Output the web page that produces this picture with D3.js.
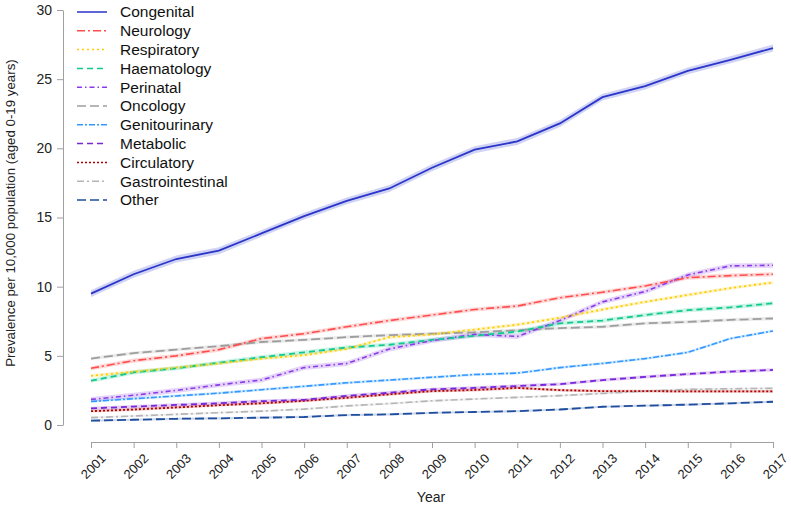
<!DOCTYPE html>
<html>
<head>
<meta charset="utf-8">
<script src="https://cdn.jsdelivr.net/npm/d3@7"></script>
<style>
  html, body { margin: 0; padding: 0; background: #fff; }
  svg { display: block; font-family: "Liberation Sans", Arial, sans-serif; }
</style>
</head>
<body>
<svg id="chart" width="791" height="505"></svg>
<script>
// ---- data ----
const years = [2001,2002,2003,2004,2005,2006,2007,2008,2009,2010,2011,2012,2013,2014,2015,2016,2017];
const categories = ["Congenital","Neurology","Respiratory","Haematology","Perinatal","Oncology","Genitourinary","Metabolic","Circulatory","Gastrointestinal","Other"];

const congenital      = [9.5,10.9,12.0,12.6,13.85,15.1,16.2,17.1,18.6,19.9,20.5,21.8,23.7,24.5,25.6,26.4,27.25];
const neurology       = [4.1,4.65,5.0,5.45,6.25,6.6,7.1,7.55,7.95,8.35,8.6,9.2,9.6,10.05,10.65,10.8,10.9];
const respiratory     = [3.55,3.85,4.15,4.45,4.8,5.05,5.5,6.35,6.55,6.9,7.25,7.75,8.35,8.9,9.4,9.9,10.3];
const haematology     = [3.2,3.8,4.1,4.5,4.9,5.25,5.6,5.8,6.15,6.45,6.75,7.35,7.55,7.95,8.3,8.5,8.8];
const perinatal       = [1.85,2.15,2.5,2.9,3.25,4.15,4.45,5.5,6.1,6.55,6.4,7.55,8.9,9.65,10.85,11.5,11.55];
const oncology        = [4.8,5.2,5.45,5.7,6.0,6.15,6.35,6.5,6.6,6.7,6.85,7.0,7.1,7.35,7.45,7.6,7.7];
const genitourinary   = [1.7,1.9,2.1,2.3,2.55,2.8,3.05,3.25,3.45,3.65,3.75,4.15,4.45,4.8,5.25,6.25,6.8];
const metabolic       = [1.2,1.33,1.45,1.57,1.72,1.82,2.1,2.33,2.58,2.68,2.82,2.95,3.25,3.48,3.68,3.86,3.98];
const circulatory     = [1.0,1.12,1.27,1.43,1.57,1.75,1.97,2.22,2.45,2.53,2.68,2.52,2.45,2.45,2.43,2.43,2.43];
const gastrointestinal= [0.53,0.65,0.77,0.89,1.0,1.15,1.38,1.55,1.75,1.88,2.0,2.12,2.28,2.45,2.57,2.62,2.65];
const other           = [0.31,0.38,0.45,0.48,0.53,0.58,0.72,0.77,0.88,0.94,1.0,1.12,1.32,1.4,1.47,1.57,1.68];

// approximate half-width of each shaded confidence band
const bandHalfWidth = [0.25,0.15,0.12,0.15,0.18,0.12,0.1,0.12,0.1,0.08,0.08];

const yTicks = [0,5,10,15,20,25,30];

// ---- styles ----
const colors = ["#2a35c9","#ff4d4d","#ffcc00","#11c98e","#8a3ae6","#9e9e9e","#3399ff","#7a26d6","#b00000","#b5b5b5","#1f4e9f"];
const dashes = ["", "8,3,2,3", "2,3", "6,4", "5,3,1.5,3", "9,4", "6,2,2,2", "6,4", "2,2", "7,3,2,3", "9,4"];
const widths = [1.8,1.6,1.8,1.8,1.6,1.8,1.6,1.8,1.8,1.6,1.8];

const seriesValues = [congenital,neurology,respiratory,haematology,perinatal,oncology,genitourinary,metabolic,circulatory,gastrointestinal,other];

const svg = d3.select("#chart");
const x = d3.scaleLinear().domain([2001,2017]).range([91,773]);
const y = d3.scaleLinear().domain([0,30]).range([425,10]);

// bands
const area = d3.area()
  .x(d => x(d.year)).y0(d => y(d.v - d.h)).y1(d => y(d.v + d.h));
const line = d3.line().x(d => x(d.year)).y(d => y(d.v));

const data = categories.map((c,i) => ({
  name: c, color: colors[i], dash: dashes[i], width: widths[i],
  pts: years.map((yr,j) => ({year: yr, v: seriesValues[i][j], h: bandHalfWidth[i]}))
}));

const gBands = svg.append("g");
data.forEach(s => {
  gBands.append("path").attr("d", area(s.pts))
    .attr("fill", s.color).attr("fill-opacity", 0.22).attr("stroke", "none");
});
const gLines = svg.append("g");
data.slice().reverse().forEach(s => {
  gLines.append("path").attr("d", line(s.pts))
    .attr("fill","none").attr("stroke", s.color).attr("stroke-width", s.width)
    .attr("stroke-dasharray", s.dash || null);
});

// axes
const axisColor = "#a0a0a0";
const yAxis = svg.append("g").attr("transform","translate(63,0)")
  .call(d3.axisLeft(y).tickValues(yTicks).tickSize(6).tickSizeOuter(0).tickPadding(5));
yAxis.selectAll("path,line").attr("stroke", axisColor);
yAxis.selectAll("text").attr("font-size", 14).attr("fill","#222")
  .attr("font-family","Liberation Sans, Arial, sans-serif");

const xAxis = svg.append("g").attr("transform","translate(0,442)")
  .call(d3.axisBottom(x).tickValues(years).tickFormat(d3.format("d")).tickSize(6).tickSizeOuter(0));
xAxis.selectAll("path,line").attr("stroke", axisColor);
xAxis.selectAll("text")
  .attr("font-size", 13).attr("fill","#222")
  .attr("font-family","Liberation Sans, Arial, sans-serif")
  .attr("text-anchor","end")
  .attr("y", 0).attr("dy", "0.35em")
  .attr("transform","translate(12,14) rotate(-45)");

// axis titles
svg.append("text").attr("x", 431).attr("y", 502).attr("text-anchor","middle")
  .attr("font-size", 14).attr("fill","#222").text("Year");
svg.append("text").attr("transform","translate(15,213) rotate(-90)")
  .attr("text-anchor","middle").attr("font-size", 13.3).attr("fill","#222")
  .text("Prevalence per 10,000 population (aged 0-19 years)");

// legend
const legend = svg.append("g");
data.forEach((s,i) => {
  const ly = 12 + i*18.8;
  legend.append("line").attr("x1",77).attr("x2",107).attr("y1",ly).attr("y2",ly)
    .attr("stroke", s.color).attr("stroke-width", 1.5)
    .attr("stroke-dasharray", s.dash || null);
  legend.append("text").attr("x",120).attr("y",ly).attr("dy","0.35em")
    .attr("font-size",15.5).attr("fill","#111").text(s.name);
});
</script>
</body>
</html>
